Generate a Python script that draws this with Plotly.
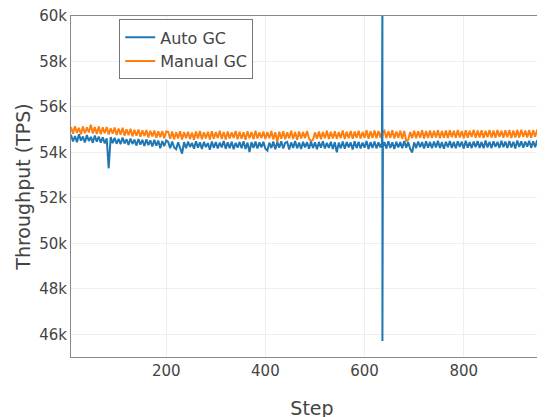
import plotly.graph_objects as go

# Steps: every 4 steps; around the GC event at 636 a few extra samples
steps = list(range(8, 633, 4)) + [635, 636, 636, 637] + list(range(640, 981, 4))

# Throughput in thousands of TPS
auto_gc_k = [
    # 8-60
    54.78, 54.48, 54.72, 54.45, 54.80, 54.52, 54.70, 54.44, 54.76, 54.50, 54.68, 54.42, 54.74, 54.47,
    # 64-200
    54.70, 54.43, 54.66, 54.40, 54.62, 53.30, 54.68, 54.41, 54.64, 54.38,
    54.60, 54.36, 54.65, 54.39, 54.58, 54.33, 54.61, 54.37, 54.56, 54.30,
    54.59, 54.34, 54.55, 54.28, 54.57, 54.32, 54.53, 54.26, 54.55, 54.30,
    54.52, 54.18, 54.50, 54.27, 54.53,
    # 204-632
    54.46, 54.18, 54.48, 54.22, 54.14, 54.44, 54.20, 53.95, 54.45, 54.19, 54.47, 54.24,
    54.42, 54.16, 54.49, 54.21, 54.44, 54.15, 54.46, 54.23, 54.41, 54.12, 54.48, 54.20,
    54.45, 54.17, 54.43, 54.22, 54.50, 54.16, 54.44, 54.19, 54.47, 54.14, 54.42, 54.21,
    54.46, 54.18, 54.49, 54.15, 54.43, 54.02, 54.45, 54.20, 54.48, 54.17, 54.44, 54.22,
    54.47, 54.16, 54.08, 54.43, 54.19, 54.48, 54.14, 54.45, 54.21, 54.49, 54.17, 54.42,
    54.46, 54.13, 54.44, 54.20, 54.50, 54.18, 54.43, 54.15, 54.47, 54.22, 54.45, 54.16,
    54.48, 54.19, 54.44, 54.14, 54.46, 54.21, 54.49, 54.17, 54.42, 54.20, 54.47, 54.15,
    54.45, 54.00, 54.43, 54.18, 54.48, 54.16, 54.46, 54.22, 54.44, 54.13, 54.49, 54.19,
    54.47, 54.17, 54.43, 54.21, 54.50, 54.15, 54.45, 54.20, 54.48, 54.18, 54.44, 54.22,
    # 635, 636, 636, 637 (GC spike)
    54.40, 61.00, 45.70, 54.25,
    # 640-980
    54.46, 54.17, 54.49, 54.20, 54.44, 54.15, 54.47, 54.22, 54.45, 54.18, 54.50, 54.21,
    54.46, 54.16, 54.00, 54.44, 54.19, 54.48, 54.23, 54.45, 54.17, 54.49, 54.21, 54.46,
    54.18, 54.48, 54.22, 54.51, 54.19, 54.45, 54.16, 54.47, 54.23, 54.50, 54.20, 54.46,
    54.18, 54.49, 54.24, 54.47, 54.17, 54.51, 54.21, 54.45, 54.19, 54.48, 54.23, 54.50,
    54.20, 54.46, 54.18, 54.52, 54.22, 54.47, 54.19, 54.49, 54.24, 54.46, 54.20, 54.51,
    54.23, 54.48, 54.19, 54.50, 54.22, 54.47, 54.17, 54.52, 54.24, 54.49, 54.21, 54.48,
    54.25, 54.51, 54.20, 54.49, 54.23, 54.53, 54.22, 54.48, 54.26, 54.50, 54.21, 54.52,
    54.27, 54.49,
]

manual_gc_k = [
    # 8-60
    55.12, 54.82, 55.15, 54.86, 55.08, 54.80, 55.14, 54.84, 55.10, 54.88, 55.22, 54.83, 55.12, 54.81,
    # 64-200
    55.14, 54.80, 55.10, 54.84, 55.12, 54.79, 55.06, 54.82, 55.09, 54.77,
    55.05, 54.78, 55.08, 54.74, 55.02, 54.76, 55.04, 54.71, 54.99, 54.73,
    55.01, 54.69, 54.97, 54.72, 54.98, 54.66, 54.95, 54.70, 54.96, 54.64,
    54.93, 54.67, 54.94, 54.62, 54.92,
    # 204-632
    54.90, 54.60, 54.92, 54.58, 54.88, 54.62, 54.93, 54.57, 54.89, 54.63, 54.91, 54.59,
    54.87, 54.56, 54.92, 54.61, 54.94, 54.58, 54.88, 54.62, 54.91, 54.57, 54.93, 54.60,
    54.89, 54.63, 54.95, 54.59, 54.90, 54.57, 54.92, 54.61, 54.88, 54.64, 54.94, 54.58,
    54.91, 54.60, 54.89, 54.56, 54.93, 54.62, 54.90, 54.58, 54.95, 54.61, 54.88, 54.63,
    54.92, 54.59, 54.90, 54.62, 54.94, 54.57, 54.89, 54.45, 54.91, 54.60, 54.93, 54.58,
    54.88, 54.62, 54.95, 54.59, 54.90, 54.56, 54.92, 54.61, 54.89, 54.63, 54.94, 54.60,
    54.50, 54.55, 54.88, 54.60, 54.92, 54.58, 54.90, 54.62, 54.95, 54.59, 54.91, 54.61,
    54.93, 54.60, 54.89, 54.63, 54.96, 54.59, 54.91, 54.62, 54.94, 54.60, 54.92, 54.64,
    54.95, 54.61, 54.90, 54.64, 54.97, 54.60, 54.93, 54.63, 54.96, 54.62, 54.94, 54.65,
    # 635, 636, 636, 637
    54.92, 54.70, 54.70, 54.90,
    # 640-980
    54.96, 54.62, 54.93, 54.64, 54.97, 54.61, 54.92, 54.65, 54.95, 54.60, 54.94, 54.50,
    54.55, 54.90, 54.63, 54.95, 54.62, 54.93, 54.65, 54.97, 54.61, 54.94, 54.64, 54.96,
    54.63, 54.95, 54.66, 54.98, 54.62, 54.94, 54.65, 54.96, 54.63, 54.97, 54.67, 54.95,
    54.64, 54.98, 54.66, 54.94, 54.62, 54.97, 54.65, 54.95, 54.68, 54.99, 54.64, 54.96,
    54.66, 54.97, 54.63, 54.95, 54.67, 54.99, 54.65, 54.96, 54.64, 54.98, 54.68, 54.95,
    54.65, 54.97, 54.67, 54.99, 54.63, 54.96, 54.66, 54.98, 54.65, 55.00, 54.68, 54.96,
    54.66, 54.98, 54.64, 54.97, 54.69, 55.00, 54.66, 54.97, 54.65, 54.99, 54.68, 54.96,
    54.67, 54.98,
]

y_tickvals = [46, 48, 50, 52, 54, 56, 58, 60]
y_ticktext = ["46k", "48k", "50k", "52k", "54k", "56k", "58k", "60k"]
x_tickvals = [200, 400, 600, 800]

font_family = "DejaVu Sans"

fig = go.Figure()
fig.add_trace(go.Scatter(x=steps, y=manual_gc_k, mode="lines", name="Manual GC",
                         line=dict(color="#ff7f0e", width=2)))
fig.add_trace(go.Scatter(x=steps, y=auto_gc_k, mode="lines", name="Auto GC",
                         line=dict(color="#1f77b4", width=2)))

fig.update_layout(
    width=545, height=417,
    margin=dict(l=63, r=0, t=8, b=68),
    paper_bgcolor="white", plot_bgcolor="white",
    font=dict(family=font_family, color="#444", size=15),
    showlegend=True,
    legend=dict(x=0.1, y=0.99, xanchor="left", yanchor="top",
                traceorder="reversed",
                bgcolor="white", bordercolor="#777", borderwidth=1,
                font=dict(size=16, family=font_family)),
)
fig.update_xaxes(
    range=[8, 980], tickvals=x_tickvals,
    showgrid=True, gridcolor="#eeeeee", zeroline=False,
    showline=True, linecolor="#888", linewidth=1, mirror=True,
    ticks="", tickfont=dict(size=15),
    title=dict(text="Step", font=dict(size=19), standoff=22),
)
fig.update_yaxes(
    range=[45, 60], tickvals=y_tickvals, ticktext=y_ticktext,
    showgrid=True, gridcolor="#eeeeee", zeroline=False,
    showline=True, linecolor="#888", linewidth=1, mirror=False,
    ticks="", tickfont=dict(size=15), ticklabeloverflow="allow",
    title=dict(text="Throughput (TPS)", font=dict(size=19), standoff=3),
)

fig.write_html("out.html")
